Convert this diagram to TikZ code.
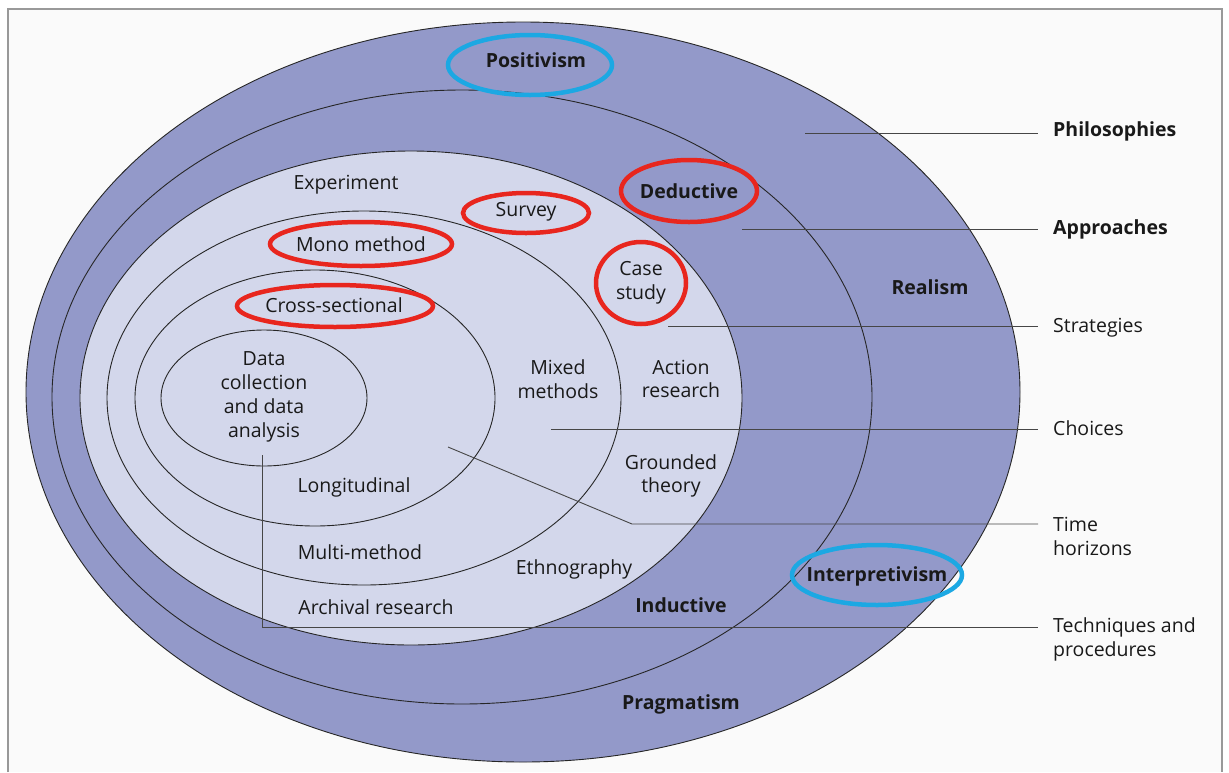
\documentclass[tikz,border=0pt]{standalone}
\usepackage{fontspec}
\setmainfont{Open Sans}
\definecolor{ringdark}{RGB}{147,153,201}
\definecolor{ringlight}{RGB}{211,215,235}
\definecolor{hlred}{RGB}{232,38,30}
\definecolor{hlblue}{RGB}{28,168,227}
\definecolor{ink}{RGB}{25,25,25}
\definecolor{leader}{RGB}{70,70,70}
\definecolor{paper}{RGB}{250,250,250}
\begin{document}
\begin{tikzpicture}[x=1pt,y=-1pt,
  ring/.style={draw=black!85,line width=0.9pt},
  lbl/.style={text=ink,font=\fontsize{19.5}{23.8}\selectfont,align=center,inner sep=0pt},
  blbl/.style={lbl,font=\fontsize{19.5}{23.8}\selectfont\bfseries},
  side/.style={text=ink,font=\fontsize{19.5}{24}\selectfont,align=left,anchor=west,inner xsep=15pt,inner ysep=0pt},
  bside/.style={side,font=\fontsize{19.5}{24}\selectfont\bfseries},
  leadline/.style={draw=leader,line width=0.9pt},
  redring/.style={draw=hlred,line width=4.5pt},
  bluering/.style={draw=hlblue,line width=4.5pt}]
\useasboundingbox (0,0) rectangle (1229,772);
\fill[white] (0,0) rectangle (1229,772);
\fill[paper] (8,9) rectangle (1222,772);
\draw[black!40,line width=1.2pt] (8,772) -- (8,9) -- (1222,9) -- (1222,772);
% onion rings
\draw[ring,fill=ringdark] (523,392) ellipse [x radius=497pt, y radius=370pt];
\draw[ring,fill=ringdark] (462,397) ellipse [x radius=410pt, y radius=307pt];
\draw[ring,fill=ringlight] (411,398) ellipse [x radius=331pt, y radius=247pt];
\draw[ring] (364,398) ellipse [x radius=257pt, y radius=187pt];
\draw[ring] (315,398) ellipse [x radius=180pt, y radius=128pt];
\draw[ring] (264,398) ellipse [x radius=103pt, y radius=68pt];
% labels inside
\node[blbl] (positivism) at (536,60) {Positivism};
\node[blbl] (deductive) at (689,191) {Deductive};
\node[blbl] (realism) at (930,287) {Realism};
\node[blbl] (inductive) at (681,605) {Inductive};
\node[blbl] (pragmatism) at (681,704) {Pragmatism};
\node[blbl] (interpretivism) at (877,576) {Interpretivism};
\node[lbl] (experiment) at (346,185) {Experiment};
\node[lbl] (survey) at (526,212) {Survey};
\node[lbl] (mono) at (361,244) {Mono method};
\node[lbl] (casestudy) at (641,283) {Case\\study};
\node[lbl] (cross) at (334,305) {Cross-sectional};
\node[lbl] (data) at (264,397) {Data\\collection\\and data\\analysis};
\node[lbl] (mixed) at (558,379) {Mixed\\methods};
\node[lbl] (action) at (681,379) {Action\\research};
\node[lbl] (grounded) at (671,476) {Grounded\\theory};
\node[lbl] (longitudinal) at (354,487) {Longitudinal};
\node[lbl] (multi) at (360,552) {Multi-method};
\node[lbl] (ethno) at (574,569) {Ethnography};
\node[lbl] (archival) at (376,607) {Archival research};
% highlight rings
\draw[bluering] (530,65) ellipse [x radius=82pt, y radius=30pt];
\draw[bluering] (877,575) ellipse [x radius=85pt, y radius=30pt];
\draw[redring] (689,191) ellipse [x radius=68pt, y radius=31pt];
\draw[redring] (526,213) ellipse [x radius=63pt, y radius=20pt];
\draw[redring] (361,244) ellipse [x radius=91pt, y radius=22pt];
\draw[redring] (641,283) ellipse [x radius=45pt, y radius=41pt];
\draw[redring] (335,306) ellipse [x radius=98pt, y radius=21pt];
% side labels
\node[bside] (philosophies) at (1038,131) {Philosophies};
\node[bside] (approaches) at (1038,229) {Approaches};
\node[side] (strategies) at (1038,328) {Strategies};
\node[side] (choices) at (1038,428) {Choices};
\node[side] (timeh) at (1038,536) {Time\\horizons};
\node[side] (techniques) at (1038,639) {Techniques and\\procedures};
% leader lines
\coordinate (pPhil) at (805,133);
\coordinate (pAppr) at (742,229);
\coordinate (pStrat) at (668,326);
\coordinate (pChoice) at (551,429);
\coordinate (pTime) at (448,447);
\coordinate (kTime) at (632,524);
\coordinate (pTech) at (262,455);
\coordinate (kTech) at (262,627);
\draw[leadline] (pPhil) -- (philosophies.west |- pPhil);
\draw[leadline] (pAppr) -- (approaches.west |- pAppr);
\draw[leadline] (pStrat) -- (strategies.west |- pStrat);
\draw[leadline] (pChoice) -- (choices.west |- pChoice);
\draw[leadline] (pTime) -- (kTime) -- (timeh.west |- kTime);
\draw[leadline] (pTech) -- (kTech) -- (techniques.west |- kTech);
\end{tikzpicture}
\end{document}
